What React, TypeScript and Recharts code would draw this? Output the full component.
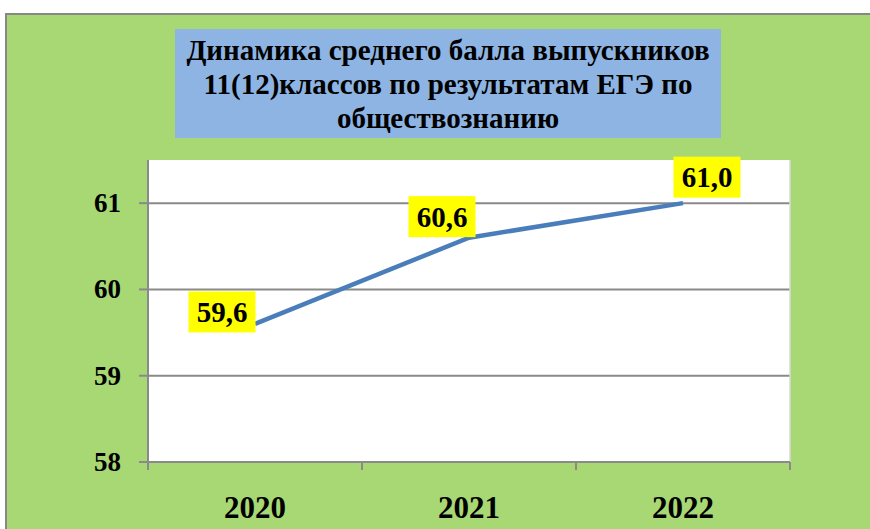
import React from 'react';
import { LineChart, Line, XAxis, YAxis, CartesianGrid, LabelList, ReferenceLine } from 'recharts';

const categories = ['2020', '2021', '2022'];
const scores = [59.6, 60.6, 61.0];
const yTicks = [58, 59, 60, 61];
const titleLines = [
  'Динамика среднего балла выпускников',
  '11(12)классов по результатам ЕГЭ по',
  'обществознанию',
];

// style: label box offsets relative to the point (dx, dy of box centre)
const labelOffsets = [
  [-33, -12],
  [-27, -21],
  [24, -26],
];

const data = categories.map((c, i) => ({ pos: i + 0.5, year: c, value: scores[i] }));
const xTicks = [0, 0.5, 1, 1.5, 2, 2.5, 3];

const FONT = 'Liberation Serif';
const GREEN = '#a8d873';
const GRID = '#8a8a8a';

const XTick = (props: any) => {
  const { x, y, payload } = props;
  const v = payload.value as number;
  if (Number.isInteger(v)) {
    return <line x1={x} y1={y} x2={x} y2={y + 8} stroke={GRID} strokeWidth={2} />;
  }
  return (
    <text x={x} y={y + 56} textAnchor="middle" fontFamily={FONT} fontWeight="bold" fontSize={31} fill="#000">
      {categories[Math.floor(v)]}
    </text>
  );
};

const YTick = (props: any) => {
  const { x, y, payload } = props;
  return (
    <text x={x} y={y + 9} textAnchor="end" fontFamily={FONT} fontWeight="bold" fontSize={27} fill="#000">
      {payload.value}
    </text>
  );
};

const renderLabel = (props: any) => {
  const { x, y, value, index } = props;
  const [dx, dy] = labelOffsets[index] || [0, -20];
  const w = 67;
  const h = 41;
  const cx = x + dx;
  const cy = y + dy;
  return (
    <g>
      <rect x={cx - w / 2} y={cy - h / 2} width={w} height={h} fill="#ffff00" />
      <text x={cx} y={cy + 10} textAnchor="middle" fontFamily={FONT} fontWeight="bold" fontSize={29} fill="#000">
        {Number(value).toFixed(1).replace('.', ',')}
      </text>
    </g>
  );
};

export default function App() {
  return (
    <div style={{ position: 'absolute', left: 0, top: 0, width: 870, height: 529, background: '#fff', overflow: 'hidden' }}>
      <div
        style={{
          position: 'absolute',
          left: 5,
          top: 13,
          width: 870,
          height: 529,
          background: GREEN,
          borderTop: '2px solid #878787',
          borderLeft: '2px solid #878787',
        }}
      />
      <div
        style={{
          position: 'absolute',
          left: 175,
          top: 29,
          width: 546,
          height: 109,
          background: '#8db4e2',
          display: 'flex',
          flexDirection: 'column',
          justifyContent: 'center',
          alignItems: 'center',
          fontFamily: FONT,
          fontWeight: 'bold',
          fontSize: 29,
          lineHeight: '34px',
          color: '#000',
          whiteSpace: 'nowrap',
        }}
      >
        {titleLines.map((t) => (
          <div key={t}>{t}</div>
        ))}
      </div>
      <div style={{ position: 'absolute', left: 0, top: 0 }}>
        <LineChart width={870} height={529} data={data} margin={{ top: 160, right: 80, left: 0, bottom: 7 }}>
          <CartesianGrid vertical={false} fill="#ffffff" stroke={GRID} strokeWidth={2} horizontalValues={yTicks} />
          <ReferenceLine x={3} stroke="#d9d9d9" strokeWidth={1.5} />
          <XAxis
            dataKey="pos"
            type="number"
            domain={[0, 3]}
            ticks={xTicks}
            interval={0}
            height={60}
            tickLine={false}
            tickSize={0}
            tickMargin={0}
            tick={<XTick />}
            axisLine={{ stroke: GRID, strokeWidth: 2 }}
          />
          <YAxis
            type="number"
            domain={[58, 61.5]}
            ticks={yTicks}
            interval={0}
            width={148}
            tickSize={9}
            tickMargin={18}
            tickLine={{ stroke: GRID, strokeWidth: 2 }}
            axisLine={{ stroke: GRID, strokeWidth: 2 }}
            tick={<YTick />}
          />
          <Line
            type="linear"
            dataKey="value"
            stroke="#4a7ebb"
            strokeWidth={4.5}
            dot={false}
            isAnimationActive={false}
          >
            <LabelList dataKey="value" content={renderLabel} />
          </Line>
        </LineChart>
      </div>
    </div>
  );
}
